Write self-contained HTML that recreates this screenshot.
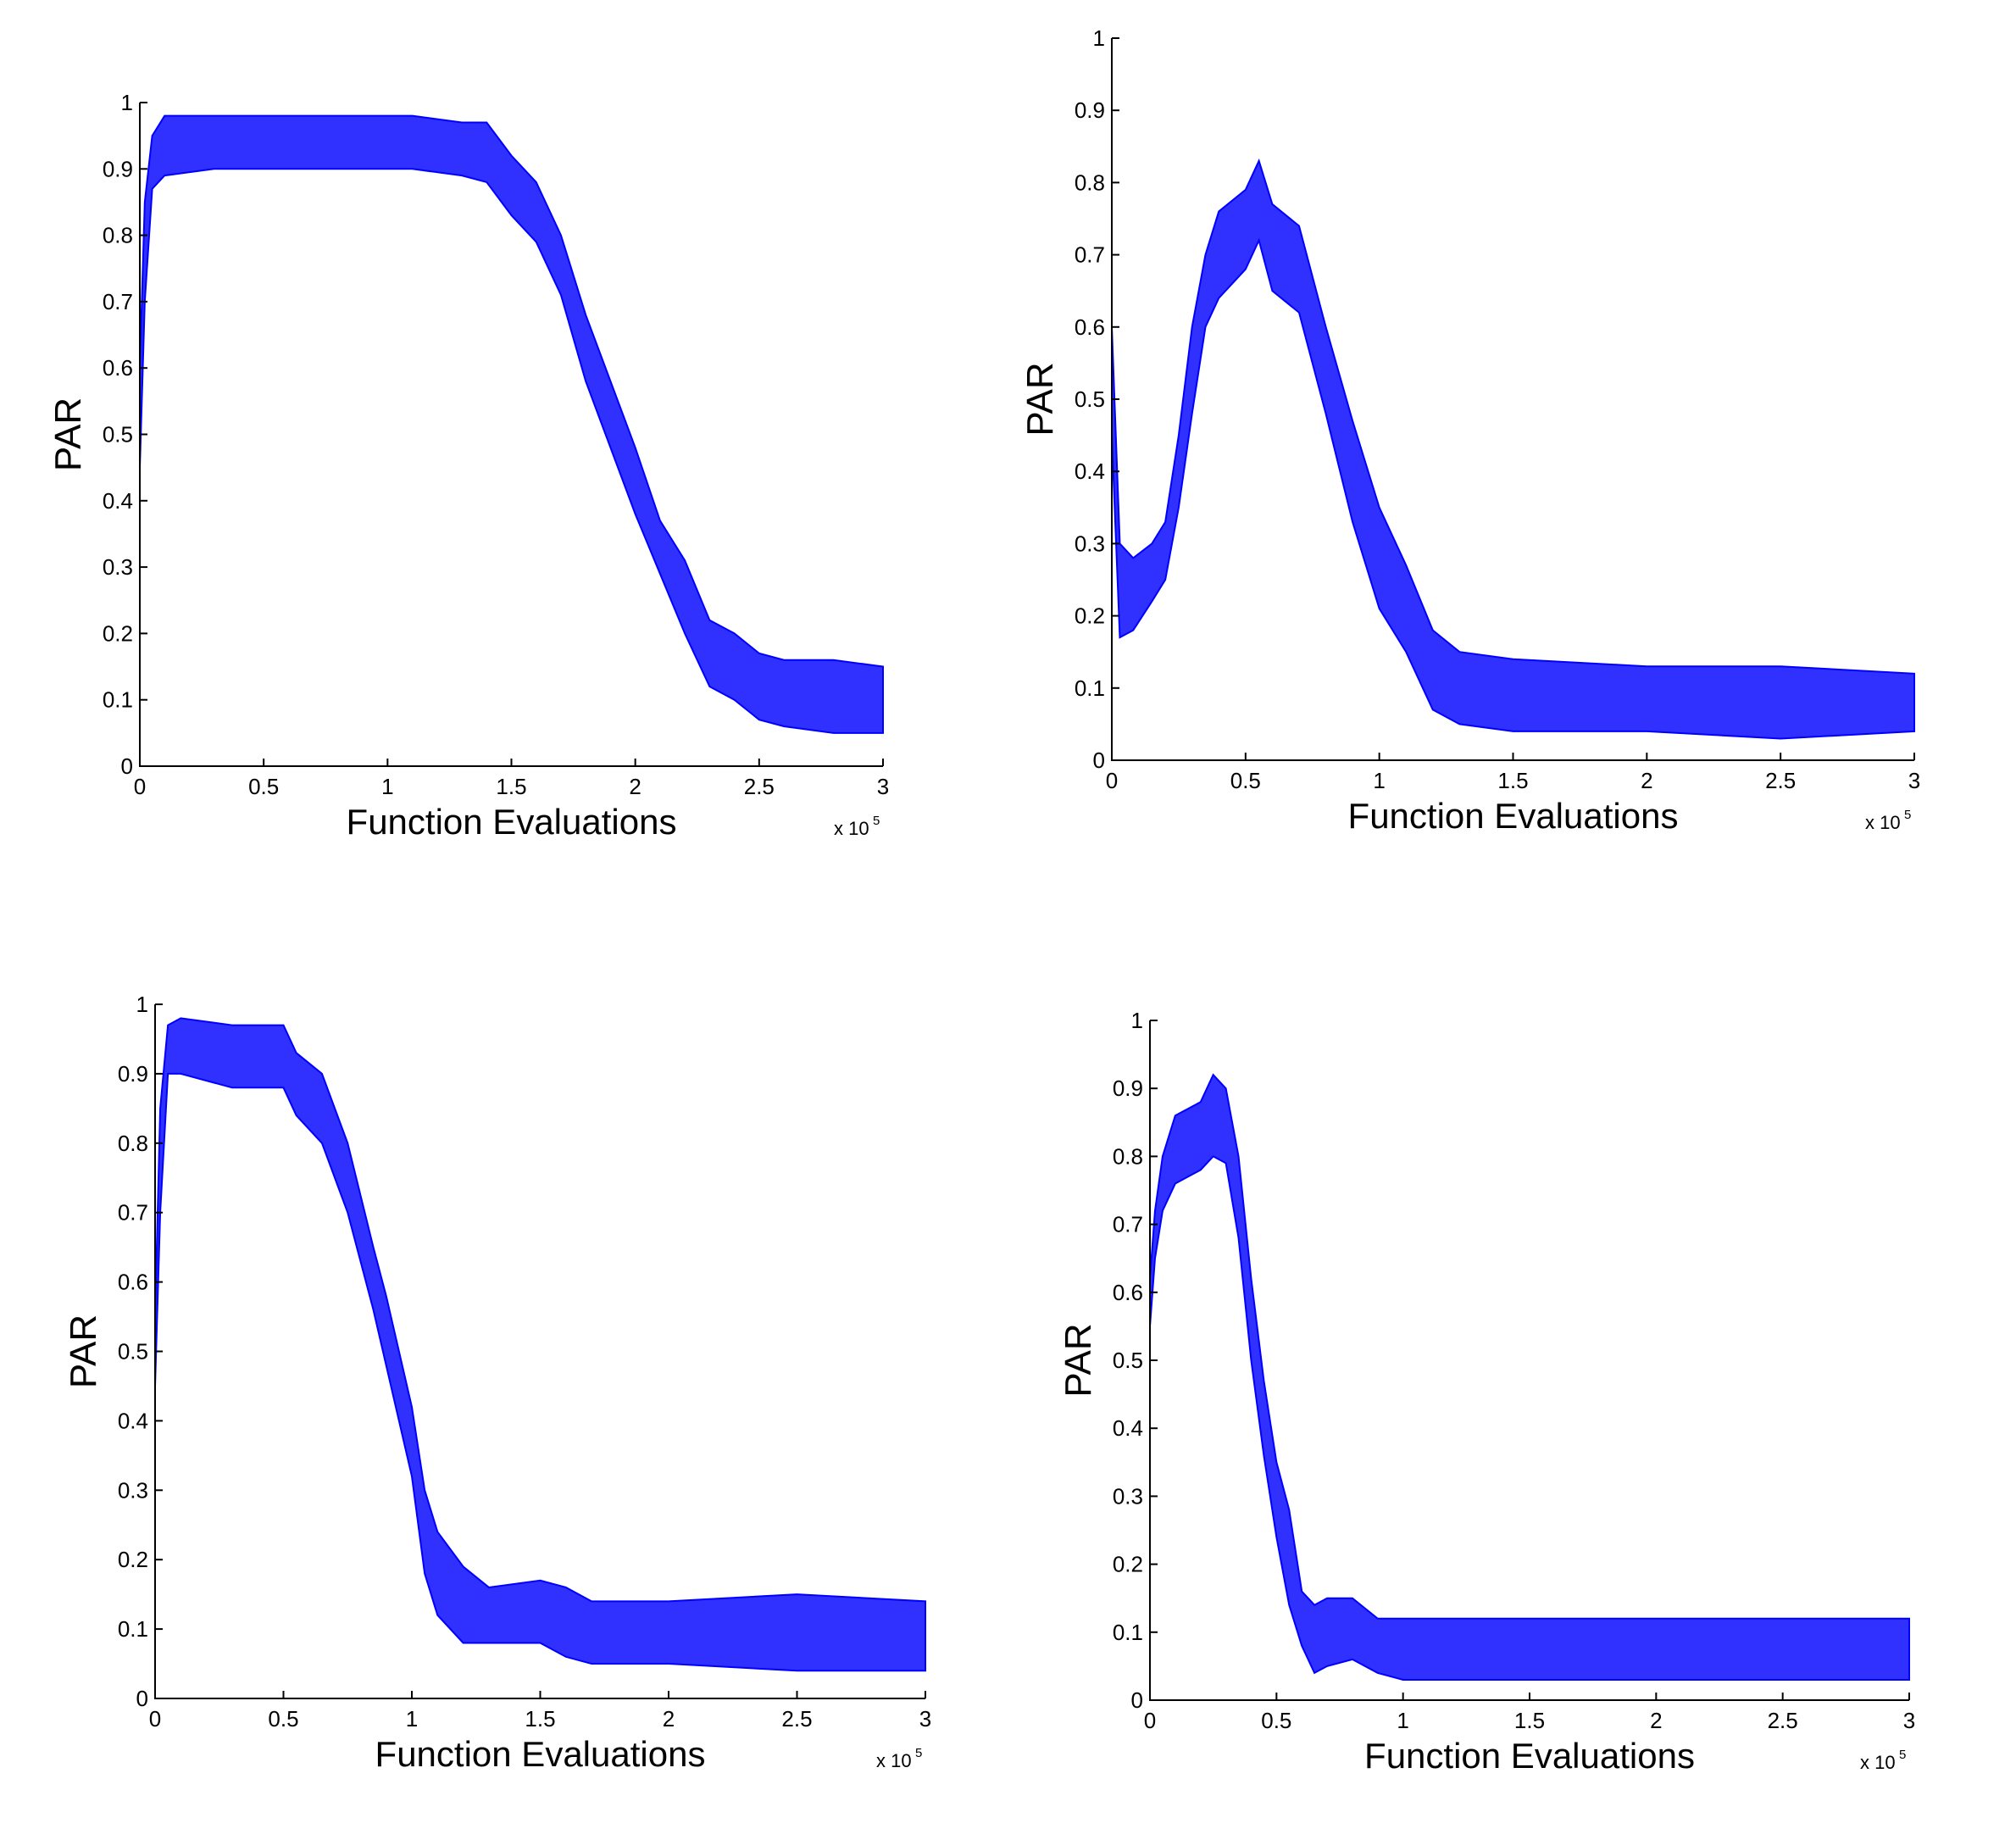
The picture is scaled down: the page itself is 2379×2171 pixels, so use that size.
<!DOCTYPE html>
<html><head><meta charset="utf-8"><style>
html,body{margin:0;padding:0;background:#fff;}
svg{display:block;font-family:"Liberation Sans",sans-serif;}
</style></head><body>
<svg id="fig" width="2379" height="2171" viewBox="0 0 2379 2171" xmlns="http://www.w3.org/2000/svg"></svg>
<script>
// Panel A (top-left)
const aX = [0,0.02,0.05,0.1,0.3,0.5,0.7,0.9,1.1,1.3,1.4,1.5,1.6,1.7,1.8,1.9,2.0,2.1,2.2,2.3,2.4,2.5,2.6,2.8,3.0];
const aUpper = [0.6,0.85,0.95,0.98,0.98,0.98,0.98,0.98,0.98,0.97,0.97,0.92,0.88,0.80,0.68,0.58,0.48,0.37,0.31,0.22,0.20,0.17,0.16,0.16,0.15];
const aLower = [0.45,0.7,0.87,0.89,0.90,0.90,0.90,0.90,0.90,0.89,0.88,0.83,0.79,0.71,0.58,0.48,0.38,0.29,0.20,0.12,0.10,0.07,0.06,0.05,0.05];
// Panel B (top-right)
const bX = [0,0.03,0.08,0.15,0.2,0.25,0.3,0.35,0.4,0.5,0.55,0.6,0.7,0.8,0.9,1.0,1.1,1.2,1.3,1.5,2.0,2.5,3.0];
const bUpper = [0.6,0.3,0.28,0.3,0.33,0.45,0.6,0.7,0.76,0.79,0.83,0.77,0.74,0.6,0.47,0.35,0.27,0.18,0.15,0.14,0.13,0.13,0.12];
const bLower = [0.45,0.17,0.18,0.22,0.25,0.35,0.48,0.6,0.64,0.68,0.72,0.65,0.62,0.48,0.33,0.21,0.15,0.07,0.05,0.04,0.04,0.03,0.04];
// Panel C (bottom-left)
const cX = [0,0.02,0.05,0.1,0.3,0.5,0.55,0.65,0.75,0.85,0.9,1.0,1.05,1.1,1.2,1.3,1.5,1.6,1.7,2.0,2.5,3.0];
const cUpper = [0.55,0.85,0.97,0.98,0.97,0.97,0.93,0.9,0.8,0.65,0.58,0.42,0.3,0.24,0.19,0.16,0.17,0.16,0.14,0.14,0.15,0.14];
const cLower = [0.45,0.7,0.9,0.9,0.88,0.88,0.84,0.8,0.7,0.56,0.48,0.32,0.18,0.12,0.08,0.08,0.08,0.06,0.05,0.05,0.04,0.04];
// Panel D (bottom-right)
const dX = [0,0.02,0.05,0.1,0.2,0.25,0.3,0.35,0.4,0.45,0.5,0.55,0.6,0.65,0.7,0.8,0.9,1.0,1.5,2.0,2.5,3.0];
const dUpper = [0.62,0.72,0.8,0.86,0.88,0.92,0.9,0.8,0.62,0.47,0.35,0.28,0.16,0.14,0.15,0.15,0.12,0.12,0.12,0.12,0.12,0.12];
const dLower = [0.55,0.65,0.72,0.76,0.78,0.8,0.79,0.68,0.5,0.36,0.24,0.14,0.08,0.04,0.05,0.06,0.04,0.03,0.03,0.03,0.03,0.03];
const xTicks = ["0","0.5","1","1.5","2","2.5","3"];
const yTicks = ["0","0.1","0.2","0.3","0.4","0.5","0.6","0.7","0.8","0.9","1"];

const NS="http://www.w3.org/2000/svg";
const fig=document.getElementById('fig');
function mk(tag,attrs,parent){const e=document.createElementNS(NS,tag);for(const k in attrs)e.setAttribute(k,attrs[k]);(parent||fig).appendChild(e);return e;}

function panel(name,box,xs,up,lo){
  const g=mk('g',{});
  
  
  const sx=v=>box.x0+(box.x1-box.x0)*v/3;
  const sy=v=>box.y0-(box.y0-box.y1)*v;
  let pts=[];
  for(let i=0;i<xs.length;i++)pts.push(sx(xs[i])+','+sy(up[i]));
  for(let i=xs.length-1;i>=0;i--)pts.push(sx(xs[i])+','+sy(lo[i]));
  const band=mk('polygon',{points:pts.join(' '),fill:'#3030ff',stroke:'#0000ff','stroke-width':2},g);
  
  
  const ax=mk('path',{d:`M${box.x0},${box.y1}V${box.y0}H${box.x1}`,fill:'none',stroke:'#000','stroke-width':2},g);
  
  
  yTicks.forEach((t,i)=>{
    const y=sy(i/10);
    mk('line',{x1:box.x0,x2:box.x0+9,y1:y,y2:y,stroke:'#000','stroke-width':2},g);
    const tx=mk('text',{x:box.x0-8,y:y+9,'text-anchor':'end','font-size':26},g);
    tx.textContent=t;
    
    
  });
  xTicks.forEach((t,i)=>{
    const x=sx(i*0.5);
    mk('line',{x1:x,x2:x,y1:box.y0,y2:box.y0-9,stroke:'#000','stroke-width':2},g);
    const tx=mk('text',{x:x,y:box.y0+33,'text-anchor':'middle','font-size':26},g);
    tx.textContent=t;
    
    
  });
  const xl=mk('text',{x:(box.x0+box.x1)/2,y:box.y0+80,'text-anchor':'middle','font-size':42},g);
  xl.textContent='Function Evaluations';
  
  
  const ex=mk('text',{x:box.x1-58,y:box.y0+81,'font-size':22},g);
  ex.textContent='x 10';
  
  
  const sup=mk('text',{x:box.x1-12,y:box.y0+69,'font-size':15},g);
  sup.textContent='5';
  const yl=mk('text',{x:0,y:0,'text-anchor':'middle','font-size':44,transform:`translate(${box.x0-70},${(box.y0+box.y1)/2}) rotate(-90)`},g);
  yl.textContent='PAR';
  
  
}
panel('panel-top-left',{x0:165,x1:1042,y1:121,y0:904},aX,aUpper,aLower);
panel('panel-top-right',{x0:1312,x1:2259,y1:45,y0:897},bX,bUpper,bLower);
panel('panel-bottom-left',{x0:183,x1:1092,y1:1185,y0:2004},cX,cUpper,cLower);
panel('panel-bottom-right',{x0:1357,x1:2253,y1:1204,y0:2006},dX,dUpper,dLower);
</script>
</body></html>
